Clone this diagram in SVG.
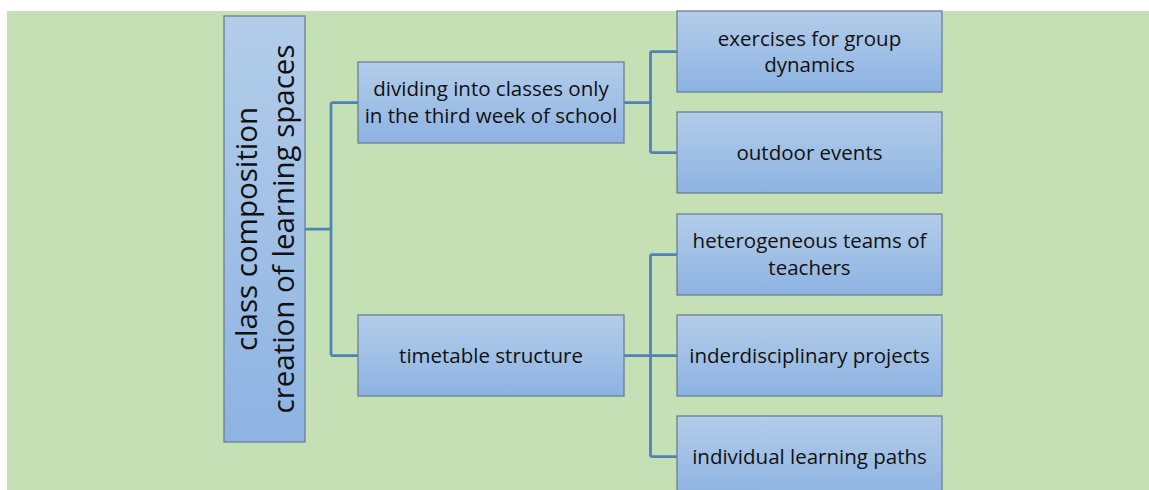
<svg xmlns="http://www.w3.org/2000/svg" width="1149" height="490" viewBox="0 0 1149 490">
<defs>
<linearGradient id="boxFill" x1="0" y1="0" x2="0" y2="1">
<stop offset="0" stop-color="#B3CDEA"/>
<stop offset="1" stop-color="#8DB3E2"/>
</linearGradient>
<style>
.box{fill:url(#boxFill);stroke:#6A7F95;stroke-width:1.3}
.lbl{font-family:"Open Sans","Noto Sans","Liberation Sans",sans-serif;font-size:20.5px;fill:#111;text-anchor:middle}
.root{font-family:"Open Sans","Noto Sans","Liberation Sans",sans-serif;font-size:29.5px;fill:#111;text-anchor:middle}
.conn{fill:none;stroke:#4F81BD;stroke-width:2.75}
</style>
</defs>
<rect x="0" y="0" width="1149" height="490" fill="#FFFFFF"/>
<rect x="7" y="11" width="1142" height="479" fill="#C5E0B4"/>
<g id="connectors">
<path class="conn" d="M305,229 H331 M331,102.5 V355.5 M331,102.5 H358 M331,355.5 H358"/>
<path class="conn" d="M624,102.5 H650.5 M650.5,51.5 V152.5 M650.5,51.5 H677 M650.5,152.5 H677"/>
<path class="conn" d="M624,355.5 H677 M650.5,254.5 V456.5 M650.5,254.5 H677 M650.5,456.5 H677"/>
</g>
<g id="root">
<rect class="box" x="224" y="16" width="81" height="426"/>
<text class="root" transform="translate(257,229) rotate(-90)" x="0" y="0">class composition</text>
<text class="root" transform="translate(294,229) rotate(-90)" x="0" y="0">creation of learning spaces</text>
</g>
<g id="dividing">
<rect class="box" x="358" y="62" width="266" height="81"/>
<text class="lbl" x="491" y="96">dividing into classes only</text>
<text class="lbl" x="491" y="122.5">in the third week of school</text>
</g>
<g id="timetable">
<rect class="box" x="358" y="315" width="266" height="81"/>
<text class="lbl" x="491" y="363.3">timetable structure</text>
</g>
<g id="exercises">
<rect class="box" x="677" y="11" width="265" height="81"/>
<text class="lbl" x="809.5" y="45.7">exercises for group</text>
<text class="lbl" x="809.5" y="71.7">dynamics</text>
</g>
<g id="outdoor">
<rect class="box" x="677" y="112" width="265" height="81"/>
<text class="lbl" x="809.5" y="160">outdoor events</text>
</g>
<g id="heterogeneous">
<rect class="box" x="677" y="214" width="265" height="81"/>
<text class="lbl" x="809.5" y="248.3">heterogeneous teams of</text>
<text class="lbl" x="809.5" y="275">teachers</text>
</g>
<g id="interdisciplinary">
<rect class="box" x="677" y="315" width="265" height="81"/>
<text class="lbl" x="809.5" y="363.3">inderdisciplinary projects</text>
</g>
<g id="individual">
<rect class="box" x="677" y="416" width="265" height="81"/>
<text class="lbl" x="809.5" y="464">individual learning paths</text>
</g>
</svg>
